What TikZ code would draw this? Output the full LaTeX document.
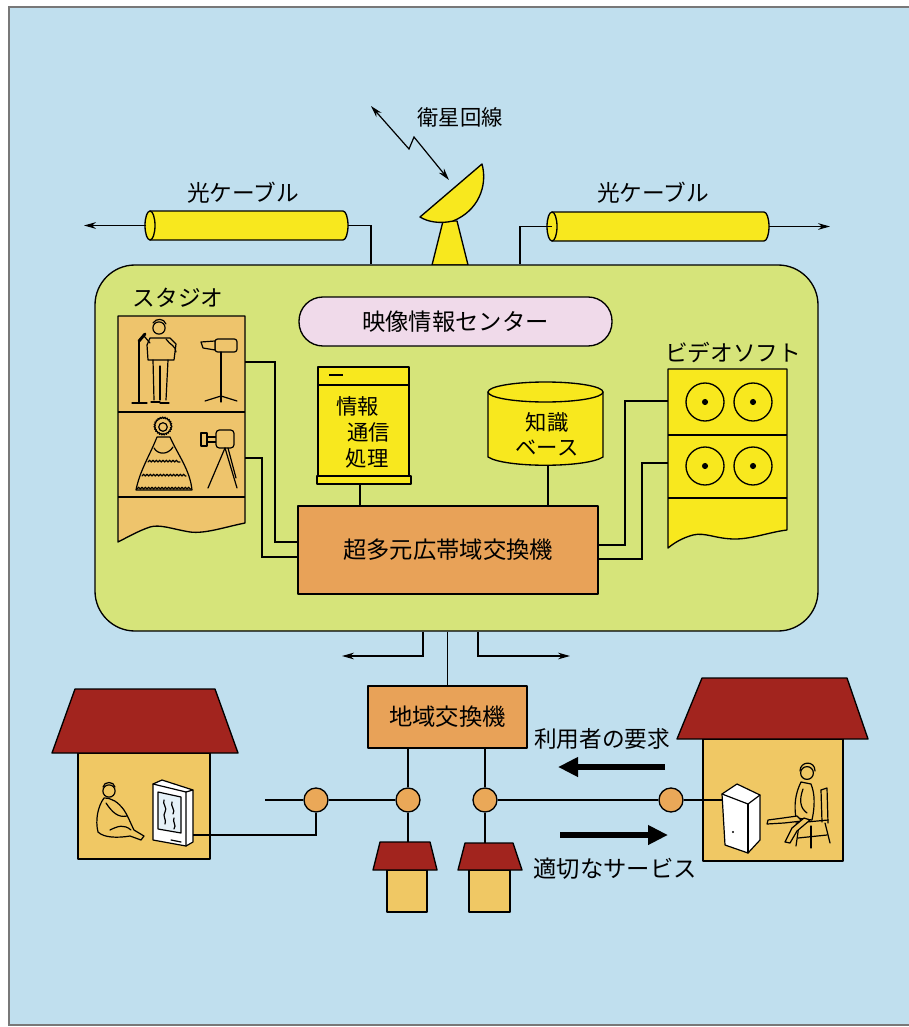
\documentclass[tikz,border=0pt]{standalone}
\usepackage{fontspec}
\setmainfont{Noto Sans CJK JP}
\usetikzlibrary{arrows.meta,decorations.pathmorphing,calc}

\definecolor{bgblue}{RGB}{192,223,238}
\definecolor{boxgreen}{RGB}{214,228,122}
\definecolor{yel}{RGB}{248,232,30}
\definecolor{sworange}{RGB}{232,162,88}
\definecolor{studioorange}{RGB}{238,196,108}
\definecolor{wall}{RGB}{240,200,100}
\definecolor{roof}{RGB}{162,36,30}
\definecolor{pinkc}{RGB}{240,218,234}
\definecolor{joint}{RGB}{234,168,88}
\definecolor{frame}{RGB}{120,120,120}

\tikzset{
  outline/.style={draw=black,line width=1pt,line join=round},
  wire/.style={draw=black,line width=0.9pt},
  thinarrow/.style={wire,-{Stealth[length=9pt,width=5pt]}},
  bigarrow/.style={draw=black,line width=4.5pt,-{Triangle[length=15pt,width=14pt]}},
  lbl/.style={inner sep=0pt,font=\fontsize{17}{20}\selectfont},
  smalllbl/.style={inner sep=0pt,font=\fontsize{16}{19}\selectfont},
  jointc/.style={circle,outline,fill=joint,minimum size=18pt,inner sep=0pt},
  sketch/.style={draw=black,line width=0.9pt,line cap=round,line join=round},
}

\begin{document}
\begin{tikzpicture}[x=0.75pt,y=-0.75pt]
% page and panel
\useasboundingbox (0,0) rectangle (909,1027);
\fill[white] (0,0) rectangle (909,1027);
\fill[bgblue] (9,7) rectangle (909,1025);
\draw[frame,line width=1pt] (909,7) -- (9,7) -- (9,1025) -- (909,1025);

% ---------- satellite link ----------
\node[smalllbl] (satlabel) at (460,117) {衛星回線};
% dish stand and reflector
\draw[outline,fill=yel] (443,221) -- (457,221) -- (468,265) -- (432,265) -- cycle;
\draw[outline,fill=yel] (420,217) -- (482,164) .. controls (488,186) and (478,211) .. (453,221)
   .. controls (440,224) and (428,222) .. (420,217) -- cycle;
\coordinate (skyend) at (371,106);
\coordinate (dishend) at (449,180);
\draw[wire,{Stealth[length=9pt,width=5pt]}-{Stealth[length=9pt,width=5pt]}]
   (skyend) -- (409,149) -- (414,137) -- (dishend);

% ---------- optical cables ----------
\node[lbl] (cableLlabel) at (243,193) {光ケーブル};
\node[lbl] (cableRlabel) at (653,193) {光ケーブル};
\draw[outline,fill=yel] (150,211) -- (343,211)
   arc[start angle=90,end angle=-90,x radius=3.75pt,y radius=10.875pt] -- (150,240) -- cycle;
\draw[outline,fill=yel] (150,225.5) ellipse[x radius=3.75pt,y radius=10.875pt];
\coordinate (cableLin) at (348,225.5);
\coordinate (cableLout) at (146,225.5);
\draw[outline,fill=yel] (552,212) -- (764,212)
   arc[start angle=90,end angle=-90,x radius=3.75pt,y radius=10.875pt] -- (552,241) -- cycle;
\draw[outline,fill=yel] (552,226.5) ellipse[x radius=3.75pt,y radius=10.875pt];
\coordinate (cableRin) at (552,226.5);
\coordinate (cableRout) at (769,226.5);
\coordinate (farL) at (84,225.5);
\coordinate (farR) at (830,226.5);
\draw[thinarrow] (cableLout) -- (farL);
\draw[thinarrow] (cableRout) -- (farR);

% ---------- video information centre ----------
\node[outline,fill=boxgreen,rounded corners=30pt,minimum width=542.25pt,minimum height=274.5pt]
   (center) at (456.5,448) {};
\draw[wire] (cableLin) -| (center.north -| 371,0);
\draw[wire] (cableRin) -| (center.north -| 520,0);

\node[outline,fill=pinkc,rounded corners=18pt,minimum width=234.75pt,minimum height=36.75pt,
   font=\fontsize{17.5}{20}\selectfont] (centerlabel) at (455.5,321.5) {映像情報センター};

\node[outline,fill=sworange,minimum width=225pt,minimum height=66pt,
   font=\fontsize{17.5}{20}\selectfont] (switch) at (448,550) {超多元広帯域交換機};

% studio
\node[lbl] (studiolabel) at (178,298) {スタジオ};
\draw[outline,fill=studioorange] (118,316) -- (245,316) -- (245,523)
   .. controls (225,527) and (205,534) .. (190,532)
   .. controls (172,529) and (160,524) .. (150,527)
   .. controls (138,531) and (126,538) .. (118,542) -- cycle;
\draw[outline] (118,412) -- (245,412);
\draw[outline] (118,497) -- (245,497);
\coordinate (studioA) at (245,362);
\coordinate (studioB) at (245,458);
% singer with microphone
\draw[sketch] (139,341) -- (139,402);
\draw[sketch] (132,403) -- (147,403);
\draw[draw=black,line width=2.2pt,line cap=round] (139,341) -- (145,334);
\draw[sketch,fill=studioorange] (159,328) circle[radius=4.6pt];
\draw[sketch] (153,323) .. controls (156,318) and (164,318) .. (166,324);
\draw[sketch,fill=studioorange] (150,338) -- (170,338) -- (176,344) -- (174,360) -- (148,360) -- (147,345) -- cycle;
\draw[sketch] (150,343) -- (144,336);
\draw[sketch] (166,339) .. controls (170,345) and (176,346) .. (176,352);
\draw[sketch] (153,360) -- (154,400);
\draw[sketch] (168,360) -- (166,400);
\draw[sketch] (160,366) -- (160,400);
\draw[sketch] (151,402) -- (160,402);
\draw[sketch] (160,403) -- (169,403);
% camera on a stand
\draw[sketch,fill=studioorange,rounded corners=2pt] (215,339) rectangle (237,352);
\draw[sketch,fill=studioorange] (201,342) -- (215,341) -- (215,350) -- (203,348) -- cycle;
\draw[sketch] (221,352) -- (221,396);
\draw[sketch] (221,396) -- (205,401);
\draw[sketch] (221,396) -- (237,401);
\draw[sketch] (221,396) -- (221,402);
% lady in a dress
\draw[sketch,fill=studioorange,decorate,decoration={bumps,segment length=3.5pt,amplitude=0.8pt}]
   (163,426) circle[radius=6.5pt];
\draw[sketch] (163,427) circle[radius=3.2pt];
\draw[sketch,fill=studioorange] (157,437) -- (170,437)
   .. controls (178,455) and (190,470) .. (192,490)
   -- (136,490) .. controls (140,470) and (150,455) .. (157,437);
\draw[sketch,decorate,decoration={bumps,segment length=5pt,amplitude=1.3pt}] (148,462) -- (180,462);
\draw[sketch,decorate,decoration={bumps,segment length=5pt,amplitude=1.3pt}] (142,476) -- (186,476);
\draw[sketch,decorate,decoration={bumps,segment length=5pt,amplitude=1.3pt}] (137,489) -- (191,489);
\draw[sketch] (154,448) .. controls (158,455) and (168,455) .. (173,447);
% camera on a tripod
\draw[sketch,fill=studioorange] (201,433) rectangle (207,446);
\draw[sketch] (207,437) -- (216,437);
\draw[sketch] (207,442) -- (216,442);
\draw[sketch,fill=studioorange,rounded corners=2.5pt] (216,430) rectangle (234,448);
\draw[sketch] (225,448) -- (208,488);
\draw[sketch] (225,448) -- (237,488);
\draw[sketch] (228,448) -- (236,478);

% information processing unit
\draw[outline,fill=yel] (317,476) rectangle (411,484);
\node[outline,fill=yel,minimum width=68.25pt,minimum height=81.75pt] (info) at (363.5,421.5) {};
\draw[outline] (318,385) -- (409,385);
\draw[outline] (329,375) -- (343,375);
\node[smalllbl,align=left,font=\fontsize{16}{19.5}\selectfont] (infolabel) at (363,432)
   {情報\\\hspace{8pt}通信\\\hspace{7pt}処理};
\coordinate (infobottom) at (360,484);

% knowledge base
\draw[outline,fill=yel] (488,392) -- (488,457) .. controls (505,468) and (586,468) .. (603,457) -- (603,392) -- cycle;
\draw[outline,fill=yel] (545.5,392) ellipse[x radius=43.125pt,y radius=7.5pt];
\node[smalllbl,align=center,font=\fontsize{16}{18.5}\selectfont] (kblabel) at (547,434) {知識\\ベース};
\coordinate (kbbottom) at (548,465);

% video software
\node[lbl] (videolabel) at (733,352) {ビデオソフト};
\draw[outline,fill=yel] (668,369) -- (787,369) -- (787,530)
   .. controls (770,532) and (752,539) .. (735,539)
   .. controls (716,539) and (705,532) .. (693,535)
   .. controls (682,538) and (674,543) .. (668,548) -- cycle;
\draw[outline] (668,435) -- (787,435);
\draw[outline] (668,498) -- (787,498);
\foreach \cx/\cy in {705/402, 753/402, 705/466, 753/466} {
  \draw[outline] (\cx,\cy) circle[radius=14.25pt];
  \fill[black] (\cx,\cy) circle[radius=2.3pt];
}
\coordinate (videoA) at (668,401);
\coordinate (videoB) at (668,463);

% links inside the centre
\draw[wire] (studioA) -- (275,362) |- (switch.west |- 0,542);
\draw[wire] (studioB) -- (262,458) |- (switch.west |- 0,557);
\draw[wire] (infobottom) -- (switch.north -| infobottom);
\draw[wire] (kbbottom) -- (switch.north -| kbbottom);
\draw[wire] (videoA) -- (625,401) |- (switch.east |- 0,545);
\draw[wire] (videoB) -- (642,463) |- (switch.east |- 0,559);

% ---------- local exchange ----------
\node[outline,fill=sworange,minimum width=119.25pt,minimum height=46.5pt,
   font=\fontsize{17.5}{20}\selectfont] (local) at (447.5,717) {地域交換機};
\draw[wire] (center.south -| local.north) -- (local.north);
\coordinate (outL) at (342,656);
\coordinate (outR) at (570,656);
\draw[thinarrow] (center.south -| 423,0) |- (outL);
\draw[thinarrow] (center.south -| 478,0) |- (outR);

\node[jointc] (j1) at (316,800) {};
\node[jointc] (j2) at (408,800) {};
\node[jointc] (j3) at (485,800) {};
\node[jointc] (j4) at (671,800) {};
\coordinate (lineend) at (265,800);
\draw[wire] (local.south -| j2) -- (j2);
\draw[wire] (local.south -| j3) -- (j3);
\draw[wire] (lineend) -- (j1);
\draw[wire] (j1) -- (j2);
\draw[wire] (j3) -- (j4);

% small houses
\draw[outline,fill=wall] (387,870) rectangle (427,912);
\draw[outline,fill=roof] (373,870) -- (437,870) -- (430,842) -- (380,842) -- cycle;
\coordinate (house1) at (408,842);
\draw[outline,fill=wall] (469,870) rectangle (510,912);
\draw[outline,fill=roof] (458,870) -- (522,870) -- (513,843) -- (465,843) -- cycle;
\coordinate (house2) at (485,843);
\draw[wire] (j2) -- (house1);
\draw[wire] (j3) -- (house2);

% left home with viewer and television
\draw[outline,fill=wall] (78,753) rectangle (210,859);
\draw[outline,fill=roof] (52,753) -- (238,753) -- (215,689) -- (75,689) -- cycle;
% viewer sitting on the floor
\draw[sketch,fill=wall] (109,791) circle[radius=4.6pt];
\draw[sketch] (103,787) .. controls (104,781) and (114,781) .. (115,787);
\draw[sketch,fill=wall] (104,798) .. controls (98,806) and (95,820) .. (98,832)
   .. controls (104,838) and (118,838) .. (130,836)
   -- (141,840) -- (144,836) -- (134,830)
   .. controls (130,822) and (128,816) .. (124,810)
   .. controls (118,802) and (112,798) .. (104,798) -- cycle;
\draw[sketch] (106,803) .. controls (112,812) and (118,818) .. (127,816);
\draw[sketch] (110,830) .. controls (118,826) and (124,824) .. (131,830);
% television set
\draw[sketch,fill=white] (153,784) -- (162,780) -- (193,790) -- (193,842) -- (186,846) -- (153,840) -- cycle;
\draw[sketch] (153,784) -- (186,792) -- (186,846);
\draw[sketch] (186,792) -- (193,790);
\draw[sketch,fill=bgblue!40] (158,792) -- (181,797) -- (181,833) -- (158,829) -- cycle;
\draw[sketch] (164,800) .. controls (162,804) and (168,808) .. (165,812) .. controls (162,816) and (167,820) .. (165,824);
\draw[sketch] (172,802) .. controls (170,806) and (176,810) .. (173,814);
\draw[sketch] (174,818) .. controls (172,822) and (177,825) .. (174,829);
\draw[sketch] (171,840) -- (181,842);
\coordinate (tv) at (193,835);
\draw[wire] (j1) |- (tv);

% right home with terminal and user
\draw[outline,fill=wall] (703,739) rectangle (843,861);
\draw[outline,fill=roof] (677,739) -- (868,739) -- (847,678) -- (702,678) -- cycle;
% home terminal
\draw[sketch,fill=white] (722,794) -- (737,784) -- (760,795) -- (760,840) -- (748,853) -- (725,845) -- cycle;
\draw[sketch] (722,794) -- (748,804) -- (760,795);
\draw[sketch] (748,804) -- (748,853);
\fill[black] (733,832) circle[radius=0.9pt];
\coordinate (terminal) at (722,800);
\draw[wire] (j4) -- (terminal);
% chair
\draw[sketch] (821,790) -- (827,788) -- (828,823);
\draw[sketch] (821,790) -- (822,822);
\draw[sketch] (796,823) -- (828,820);
\draw[sketch] (799,825) -- (796,846);
\draw[sketch] (811,826) -- (811,848);
\draw[sketch] (825,823) -- (830,843);
\draw[sketch] (798,838) -- (827,835);
% user sitting on the chair
\draw[sketch,fill=wall] (801,782) .. controls (795,794) and (794,806) .. (796,818)
   -- (812,820) .. controls (815,806) and (815,794) .. (811,784) -- cycle;
\draw[sketch,fill=wall] (807,773) circle[radius=4.8pt];
\draw[sketch] (800,771) .. controls (800,761) and (815,760) .. (815,771);
\draw[sketch] (803,789) .. controls (799,800) and (800,808) .. (807,813);
\draw[sketch,fill=wall] (797,816) -- (783,818) -- (768,820) -- (767,824) -- (784,823) -- (802,821) -- cycle;
\draw[sketch,fill=wall] (804,818) -- (792,828) -- (785,842) -- (790,843) -- (797,831) -- (810,820) -- cycle;

% requests and services
\node[lbl] (reqlabel) at (602,739) {利用者の要求};
\node[lbl,font=\fontsize{17.5}{20}\selectfont] (svclabel) at (615,869) {適切なサービス};
\coordinate (reqfrom) at (665,767);
\coordinate (reqto) at (558,767);
\coordinate (svcfrom) at (560,835);
\coordinate (svcto) at (668,835);
\draw[bigarrow] (reqfrom) -- (reqto);
\draw[bigarrow] (svcfrom) -- (svcto);
\end{tikzpicture}
\end{document}
